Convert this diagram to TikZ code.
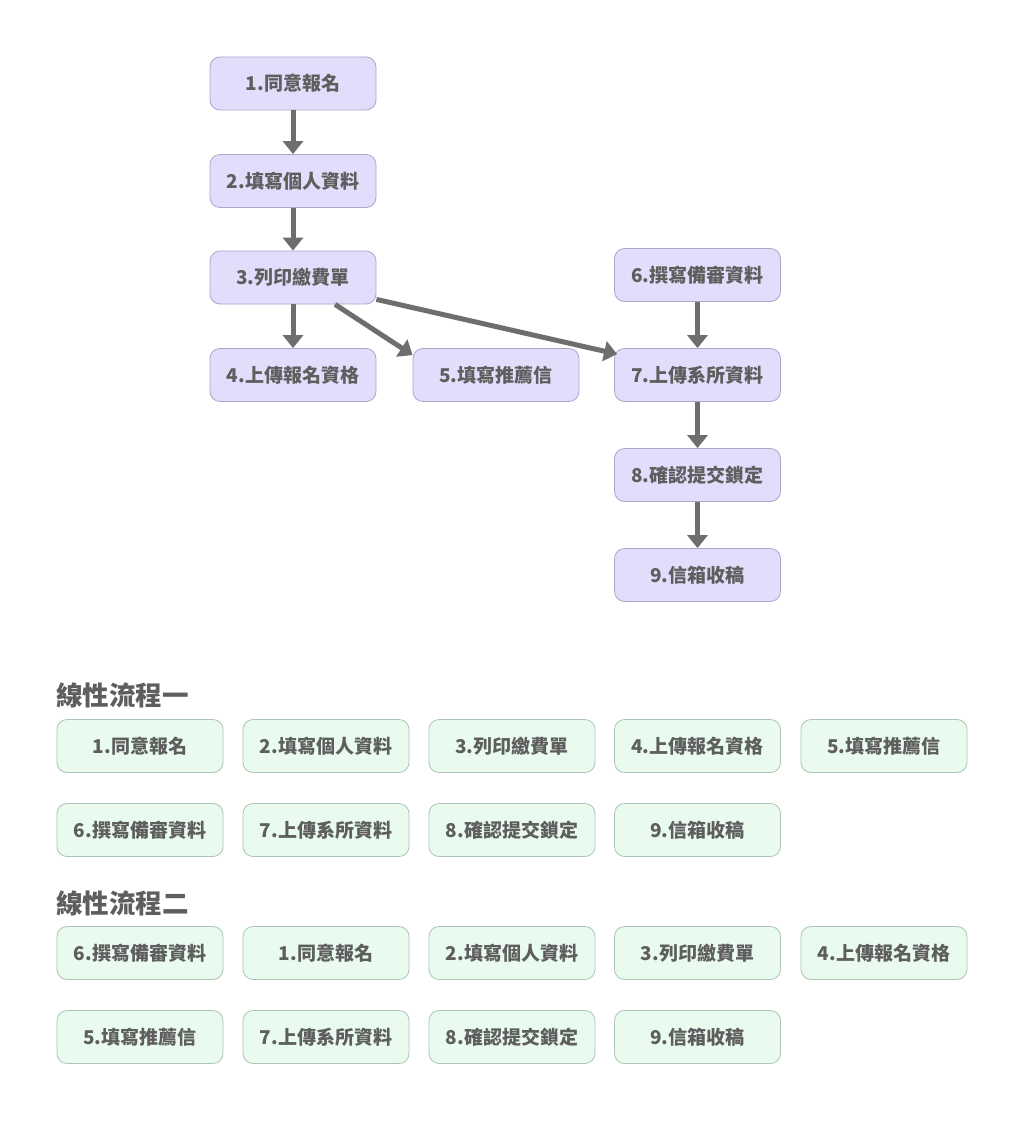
\documentclass[tikz,border=0pt]{standalone}
\usepackage{fontspec}
\newfontfamily\cjk{Noto Sans CJK TC}
\usetikzlibrary{arrows.meta,positioning,calc}
\definecolor{pfill}{HTML}{E2DDFB}
\definecolor{pdraw}{HTML}{ABA6CC}
\definecolor{gfill}{HTML}{E9FBEF}
\definecolor{gdraw}{HTML}{AEC4B4}
\definecolor{txt}{HTML}{5E5E5E}
\definecolor{arr}{HTML}{6E6E6E}
\begin{document}
\begin{tikzpicture}[x=1pt,y=-1pt,
  box/.style={draw, rounded corners=10pt, minimum width=166pt, minimum height=53pt,
    inner sep=0pt, line width=0.8pt, text=txt, font=\cjk\bfseries\fontsize{19}{22}\selectfont},
  pbox/.style={box, fill=pfill, draw=pdraw},
  gbox/.style={box, fill=gfill, draw=gdraw},
  conn/.style={draw=arr, line width=5pt, -{Triangle[width=20pt,length=13pt]}},
  ttl/.style={anchor=west, inner sep=0pt, text=txt, font=\cjk\bfseries\fontsize{26.5}{30}\selectfont}]
\useasboundingbox[fill=white] (0,0) rectangle (1024,1121);
% top flow
\node[pbox] (n1) at (293,83.5) {1.同意報名};
\node[pbox] (n2) at (293,181) {2.填寫個人資料};
\node[pbox] (n3) at (293,277.5) {3.列印繳費單};
\node[pbox] (n4) at (293,375) {4.上傳報名資格};
\node[pbox] (n5) at (496,375) {5.填寫推薦信};
\node[pbox] (n6) at (697.5,275) {6.撰寫備審資料};
\node[pbox] (n7) at (697.5,375) {7.上傳系所資料};
\node[pbox] (n8) at (697.5,475) {8.確認提交鎖定};
\node[pbox] (n9) at (697.5,575) {9.信箱收稿};
\draw[conn] (n1) -- (n2);
\draw[conn] (n2) -- (n3);
\draw[conn] (n3) -- (n4);
\draw[conn] ([xshift=42pt]n3.south) -- ([yshift=-7pt]n5.north west);
\draw[conn] ([yshift=5pt]n3.south east) -- ([xshift=3pt,yshift=-6pt]n7.north west);
\draw[conn] (n6) -- (n7);
\draw[conn] (n7) -- (n8);
\draw[conn] (n8) -- (n9);
% linear flow 1
\node[ttl] (t1) at (56,695) {線性流程一};
\node[gbox] (a1) at (140,746) {1.同意報名};
\node[gbox] (a2) at (326,746) {2.填寫個人資料};
\node[gbox] (a3) at (512,746) {3.列印繳費單};
\node[gbox] (a4) at (697.5,746) {4.上傳報名資格};
\node[gbox] (a5) at (884,746) {5.填寫推薦信};
\node[gbox] (a6) at (140,830) {6.撰寫備審資料};
\node[gbox] (a7) at (326,830) {7.上傳系所資料};
\node[gbox] (a8) at (512,830) {8.確認提交鎖定};
\node[gbox] (a9) at (697.5,830) {9.信箱收稿};
% linear flow 2
\node[ttl] (t2) at (56,903) {線性流程二};
\node[gbox] (b1) at (140,953) {6.撰寫備審資料};
\node[gbox] (b2) at (326,953) {1.同意報名};
\node[gbox] (b3) at (512,953) {2.填寫個人資料};
\node[gbox] (b4) at (697.5,953) {3.列印繳費單};
\node[gbox] (b5) at (884,953) {4.上傳報名資格};
\node[gbox] (b6) at (140,1037) {5.填寫推薦信};
\node[gbox] (b7) at (326,1037) {7.上傳系所資料};
\node[gbox] (b8) at (512,1037) {8.確認提交鎖定};
\node[gbox] (b9) at (697.5,1037) {9.信箱收稿};
\end{tikzpicture}
\end{document}
